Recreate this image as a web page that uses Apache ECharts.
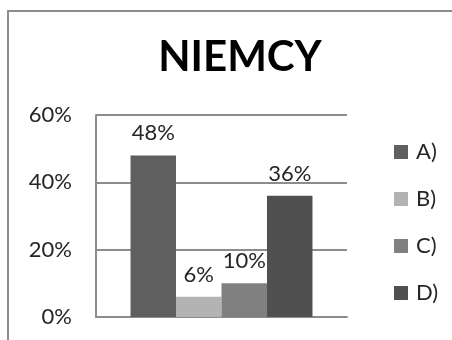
<!DOCTYPE html>
<html>
<head>
<meta charset="utf-8">
<script src="https://cdn.jsdelivr.net/npm/echarts@6/dist/echarts.min.js"></script>
<style>
html,body{margin:0;padding:0;background:#fff;}
#main{width:452px;height:340px;}
</style>
</head>
<body>
<div id="main"></div>
<script>
var categories = [''];
var seriesNames = ['A)', 'B)', 'C)', 'D)'];
var seriesValues = [[48], [6], [10], [36]];
var seriesColors = ['#5f5f5f', '#b3b3b3', '#808080', '#505050'];
var yTicks = [0, 20, 40, 60];

var myChart = echarts.init(document.getElementById('main'));
var font = 'Lato';
var gridColor = '#8c8c8c';

var series = [];
for (var i = 0; i < seriesNames.length; i++) {
    series.push({
        name: seriesNames[i],
        type: 'bar',
        data: seriesValues[i],
        barGap: '0%',
        barCategoryGap: '27.5%',
        itemStyle: {color: seriesColors[i]},
        label: {
            show: true,
            position: 'top',
            distance: 11,
            formatter: '{c}%',
            fontFamily: font,
            fontSize: 22,
            color: '#262626'
        }
    });
}

var option = {
    animation: false,
    graphic: [{
        type: 'rect',
        shape: {x: 8, y: 11, width: 460, height: 350},
        style: {fill: 'none', stroke: '#8c8c8c', lineWidth: 2},
        silent: true
    }],
    title: {
        text: 'NIEMCY',
        left: 235,
        textAlign: 'center',
        top: 31,
        textStyle: {fontFamily: font, fontWeight: 'bold', fontSize: 42, color: '#000'}
    },
    legend: {
        orient: 'vertical',
        left: 389,
        top: 136,
        itemWidth: 14,
        itemHeight: 14,
        itemGap: 25,
        icon: 'rect',
        data: seriesNames,
        textStyle: {fontFamily: font, fontSize: 22, color: '#262626', lineHeight: 22, padding: [0, 0, 0, 3]}
    },
    grid: {left: 96, top: 115, right: 105, bottom: 23},
    xAxis: {
        type: 'category',
        data: categories,
        axisLine: {show: true, lineStyle: {color: gridColor, width: 2}},
        axisTick: {show: false},
        axisLabel: {show: false}
    },
    yAxis: {
        type: 'value',
        min: yTicks[0],
        max: yTicks[yTicks.length - 1],
        interval: 20,
        axisLine: {show: true, lineStyle: {color: gridColor, width: 2}},
        axisTick: {show: false},
        splitLine: {lineStyle: {color: gridColor, width: 2}},
        axisLabel: {formatter: '{value}%', margin: 24, fontFamily: font, fontSize: 22, color: '#262626'}
    },
    series: series
};
myChart.setOption(option);
</script>
</body>
</html>
